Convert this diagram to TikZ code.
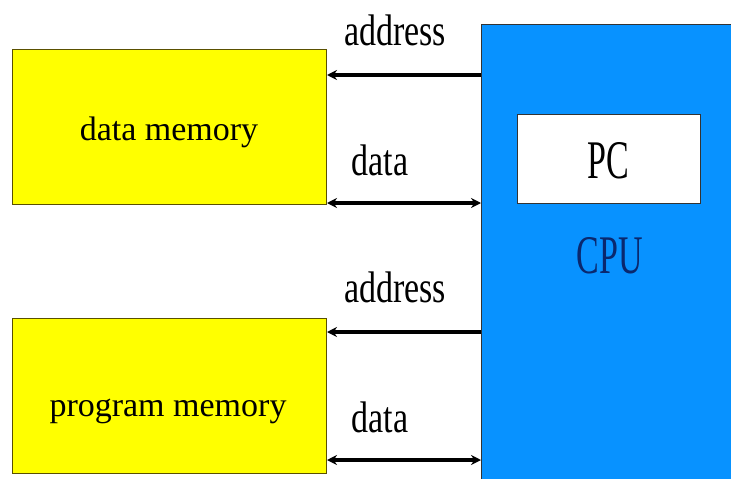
\documentclass[tikz,border=0pt]{standalone}
\usepackage{fontspec}
\setmainfont{Liberation Serif}
\usetikzlibrary{arrows.meta}
\definecolor{cpublue}{RGB}{8,146,255}
\definecolor{cputext}{RGB}{10,40,110}
\definecolor{memedge}{RGB}{90,80,0}
\definecolor{memfill}{RGB}{255,255,0}
\begin{document}
\begin{tikzpicture}[x=1pt,y=-1pt,
  mem/.style={draw=memedge, line width=1pt, fill=memfill, minimum width=314pt,
              minimum height=155pt, inner sep=0pt, anchor=north west},
  lbl/.style={font=\fontsize{34}{40}\selectfont, inner sep=0pt, anchor=base},
  bus/.style={line width=3.2pt, -{Stealth[length=10pt,width=10pt]}},
  bibus/.style={line width=3.2pt, {Stealth[length=10pt,width=10pt]}-{Stealth[length=10pt,width=10pt]}},
  ]
\useasboundingbox (0,0) rectangle (731,479);
\clip (0,0) rectangle (731,479);
\fill[white] (0,0) rectangle (731,479);

% processor block, running off the right and bottom edges
\node[draw=black!80, line width=1pt, fill=cpublue, minimum width=270pt,
      minimum height=470pt, inner sep=0pt, anchor=north west] (cpu) at (481,24) {};
\node[draw=black!80, line width=1pt, fill=white, minimum width=183pt,
      minimum height=89pt, inner sep=0pt, anchor=north west] (pc) at (517,114) {};
\node[lbl] (pctxt) at (608,178) {\scalebox{1}[1.6]{PC}};
\node[lbl, text=cputext] (cputxt) at (610,273) {\scalebox{1}[1.6]{CPU}};

% memories
\node[mem] (dmem) at (12,49) {};
\node[mem] (pmem) at (12,318) {};
\node[lbl] (dmemtxt) at (169,140) {data memory};
\node[lbl] (pmemtxt) at (168,416) {program memory};

% bus rows
\coordinate (r1) at (0,75);
\coordinate (r2) at (0,203);
\coordinate (r3) at (0,332);
\coordinate (r4) at (0,460);

\draw[bus] (cpu.west |- r1) -- (dmem.east |- r1);
\draw[bibus] (dmem.east |- r2) -- (cpu.west |- r2);
\draw[bus] (cpu.west |- r3) -- (pmem.east |- r3);
\draw[bibus] (pmem.east |- r4) -- (cpu.west |- r4);

% bus labels
\node[lbl] (a1) at (395,45) {\scalebox{1}[1.3]{address}};
\node[lbl] (d1) at (380,175) {\scalebox{1}[1.3]{data}};
\node[lbl] (a2) at (395,302) {\scalebox{1}[1.3]{address}};
\node[lbl] (d2) at (380,432) {\scalebox{1}[1.3]{data}};
\end{tikzpicture}
\end{document}
